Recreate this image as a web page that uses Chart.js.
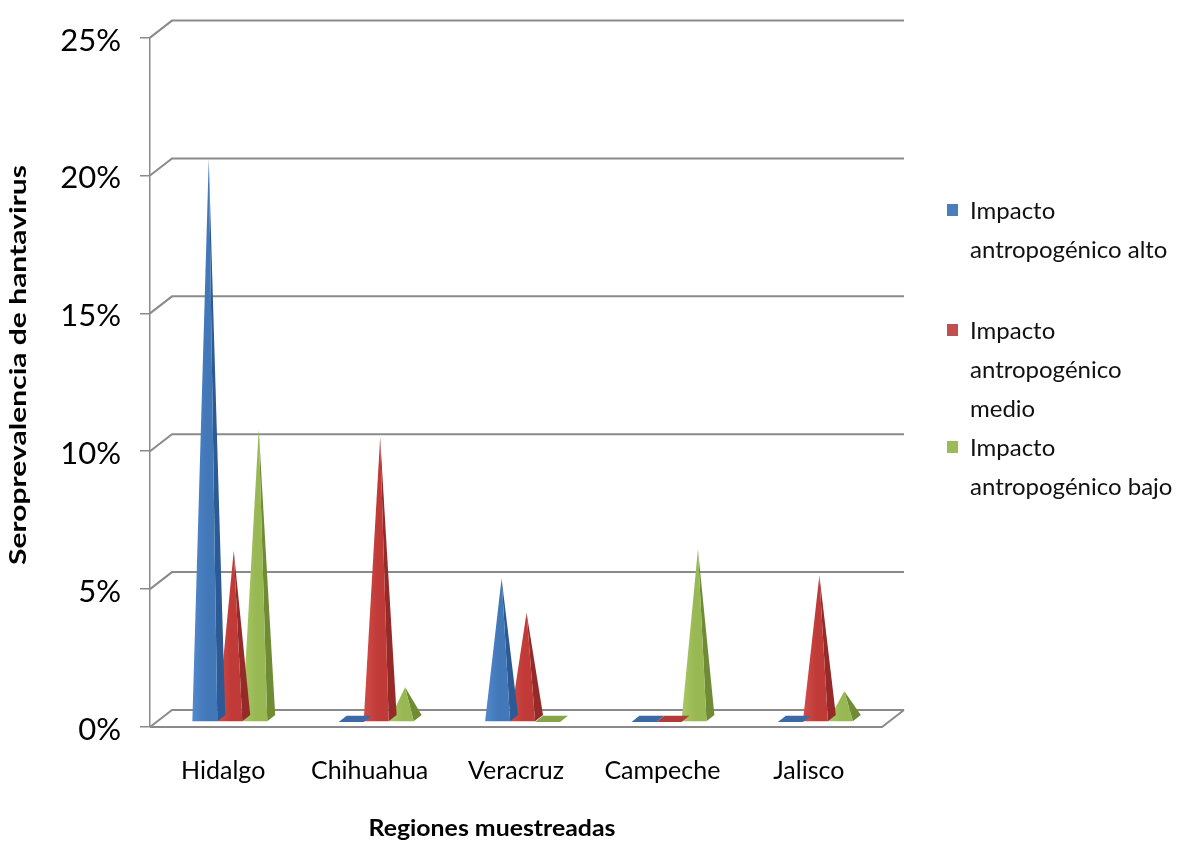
<!DOCTYPE html>
<html lang="es">
<head>
<meta charset="utf-8">
<title>Seroprevalencia de hantavirus por región</title>
<script src="https://cdn.jsdelivr.net/npm/chart.js@4.4.1/dist/chart.umd.min.js"></script>
<style>
  html, body { margin: 0; padding: 0; background: #ffffff; }
  #wrap { position: relative; width: 1182px; height: 846px; }
  #chart { position: absolute; left: 0; top: 0; }
  #legend { position: absolute; left: 0; top: 0; font-family: Lato, "Open Sans", sans-serif; font-size: 24px; color: #111; }
  .item { position: absolute; left: 947px; }
  .swatch { position: absolute; left: 0; width: 11px; height: 12px; }
  .lines { position: absolute; left: 23px; line-height: 39px; white-space: nowrap; }
</style>
</head>
<body>
<div id="wrap">
  <canvas id="chart" width="1182" height="846"></canvas>
  <div id="legend"></div>
</div>
<script>
// Regions sampled and hantavirus seroprevalence (%) per level of human impact
const categories = ['Hidalgo', 'Chihuahua', 'Veracruz', 'Campeche', 'Jalisco'];
const altoValues  = [20.3, 0, 5.1, 0, 0];
const medioValues = [6.1, 10.2, 3.85, 0, 5.2];
const bajoValues  = [10.5, 1.15, 0, 6.15, 1.0];
const yTickValues = [0, 5, 10, 15, 20, 25];

// Legend wording, one array per series (line breaks as printed)
const legendLines = [
  ['Impacto', 'antropogénico alto'],
  ['Impacto', 'antropogénico', 'medio'],
  ['Impacto', 'antropogénico bajo']
];
const seriesNames = legendLines.map(l => l.join(' '));
const xAxisTitle = 'Regiones muestreadas';
const yAxisTitle = 'Seroprevalencia de hantavirus';

// Styling
const swatchColors = ['#4a7ebb', '#c0504d', '#9bbb59'];
const faceColors = [
  { light: '#5189cc', front: '#4277b8', side: '#2c5a94', flat: '#3b6aa6' },
  { light: '#d24b48', front: '#c03b38', side: '#952a28', flat: '#b23a37' },
  { light: '#a9c865', front: '#98b854', side: '#6f8c34', flat: '#86a548' }
];
const WALL_DX = 22;   // horizontal shift from the front plane to the back wall
const WALL_DY = 17;   // vertical shift from the front plane to the back wall
const GRID_COLOR = '#8a8a8a';
const FONT = 'Lato, "Open Sans", sans-serif';

// Back wall gridlines, their side connectors and the floor outline
const wallPlugin = {
  id: 'wall',
  beforeDatasetsDraw(chart) {
    const ctx = chart.ctx, ys = chart.scales.y, a = chart.chartArea;
    ctx.save();
    ctx.strokeStyle = GRID_COLOR;
    ctx.lineWidth = 2;
    ys.ticks.forEach(t => {
      const yf = ys.getPixelForValue(t.value);
      const yb = yf - WALL_DY;
      ctx.beginPath();
      ctx.moveTo(a.left, yf);
      ctx.lineTo(a.left + WALL_DX, yb);
      ctx.lineTo(a.right + WALL_DX, yb);
      ctx.stroke();
    });
    const y0 = ys.getPixelForValue(0);
    ctx.beginPath();
    ctx.moveTo(a.left, y0);
    ctx.lineTo(a.right, y0);
    ctx.lineTo(a.right + WALL_DX, y0 - WALL_DY);
    ctx.stroke();
    ctx.restore();
  }
};

// Each bar is rendered as a pyramid standing in the middle of the floor depth
const pyramidPlugin = {
  id: 'pyramids',
  beforeDatasetDraw(chart, args) {
    const ctx = chart.ctx;
    const col = faceColors[args.index];
    const fF = 0.30, fB = 0.66, fC = (fF + fB) / 2;
    args.meta.data.forEach(bar => {
      const p = bar.getProps(['x', 'y', 'base', 'width'], true);
      const half = p.width / 2;
      const xL = p.x - half + WALL_DX * fF;
      const xR = p.x + half + WALL_DX * fF;
      const yF = p.base - WALL_DY * fF;
      const bx = WALL_DX * (fB - fF);
      const by = -WALL_DY * (fB - fF);
      ctx.save();
      if (p.base - p.y < 0.5) {
        ctx.fillStyle = col.flat;
        ctx.beginPath();
        ctx.moveTo(xL, yF);
        ctx.lineTo(xR, yF);
        ctx.lineTo(xR + bx, yF + by);
        ctx.lineTo(xL + bx, yF + by);
        ctx.closePath();
        ctx.fill();
      } else {
        const ax = p.x + WALL_DX * fC;
        const ay = p.y - WALL_DY * fC;
        // right-hand face
        ctx.fillStyle = col.side;
        ctx.beginPath();
        ctx.moveTo(xR, yF);
        ctx.lineTo(xR + bx, yF + by);
        ctx.lineTo(ax, ay);
        ctx.closePath();
        ctx.fill();
        // front face
        const g = ctx.createLinearGradient(xL, 0, xR, 0);
        g.addColorStop(0, col.light);
        g.addColorStop(0.55, col.front);
        g.addColorStop(1, col.front);
        ctx.fillStyle = g;
        ctx.beginPath();
        ctx.moveTo(xL, yF);
        ctx.lineTo(xR, yF);
        ctx.lineTo(ax, ay);
        ctx.closePath();
        ctx.fill();
      }
      ctx.restore();
    });
    return false;
  }
};

// Draws a bold title stretched along its run to a given length
function drawWideText(ctx, text, cx, cy, length, angle, size) {
  ctx.save();
  ctx.font = 'bold ' + size + 'px ' + FONT;
  ctx.fillStyle = '#000';
  ctx.textAlign = 'center';
  ctx.textBaseline = 'middle';
  const w = ctx.measureText(text).width;
  ctx.translate(cx, cy);
  ctx.rotate(angle);
  ctx.scale(length / w, 1);
  ctx.fillText(text, 0, 0);
  ctx.restore();
}

// Axis titles
const titlesPlugin = {
  id: 'axisTitles',
  afterDraw(chart) {
    const ctx = chart.ctx;
    drawWideText(ctx, xAxisTitle, 492, 829, 247, 0, 23);
    drawWideText(ctx, yAxisTitle, 19, 365, 400, -Math.PI / 2, 23);
  }
};

const values = [altoValues, medioValues, bajoValues];
new Chart(document.getElementById('chart'), {
  type: 'bar',
  data: {
    labels: categories,
    datasets: values.map((v, i) => ({
      label: seriesNames[i],
      data: v,
      backgroundColor: swatchColors[i],
      barPercentage: 1,
      categoryPercentage: 0.512
    }))
  },
  options: {
    responsive: false,
    animation: false,
    layout: { padding: { top: 33, right: 300, bottom: 0, left: 0 } },
    plugins: { legend: { display: false }, tooltip: { enabled: false } },
    scales: {
      x: {
        afterFit(s) { s.height = 119; },
        grid: { display: false, drawTicks: false },
        border: { display: false },
        ticks: { color: '#000', font: { family: FONT, size: 25 }, padding: 29 }
      },
      y: {
        min: 0,
        max: 25,
        afterFit(s) { s.width = 150; },
        afterBuildTicks(s) { s.ticks = yTickValues.map(v => ({ value: v })); },
        grid: { drawOnChartArea: false, drawTicks: true, tickLength: 10, color: GRID_COLOR, lineWidth: 1.5 },
        border: { display: true, color: GRID_COLOR, width: 1.5 },
        ticks: {
          color: '#000',
          padding: 19,
          labelOffset: 3,
          font: { family: FONT, size: 31 },
          callback: v => v + '%'
        }
      }
    }
  },
  plugins: [wallPlugin, pyramidPlugin, titlesPlugin]
});

// Legend built from the series names and colours
const legendTops = [190, 310, 427];
const legend = document.getElementById('legend');
legendLines.forEach((lines, i) => {
  const item = document.createElement('div');
  item.className = 'item';
  item.style.top = legendTops[i] + 'px';
  const sw = document.createElement('div');
  sw.className = 'swatch';
  sw.style.top = '14px';
  sw.style.background = swatchColors[i];
  const txt = document.createElement('div');
  txt.className = 'lines';
  txt.innerHTML = lines.map(s => s.replace(/&/g, '&amp;').replace(/</g, '&lt;')).join('<br>');
  item.appendChild(sw);
  item.appendChild(txt);
  legend.appendChild(item);
});
</script>
</body>
</html>
